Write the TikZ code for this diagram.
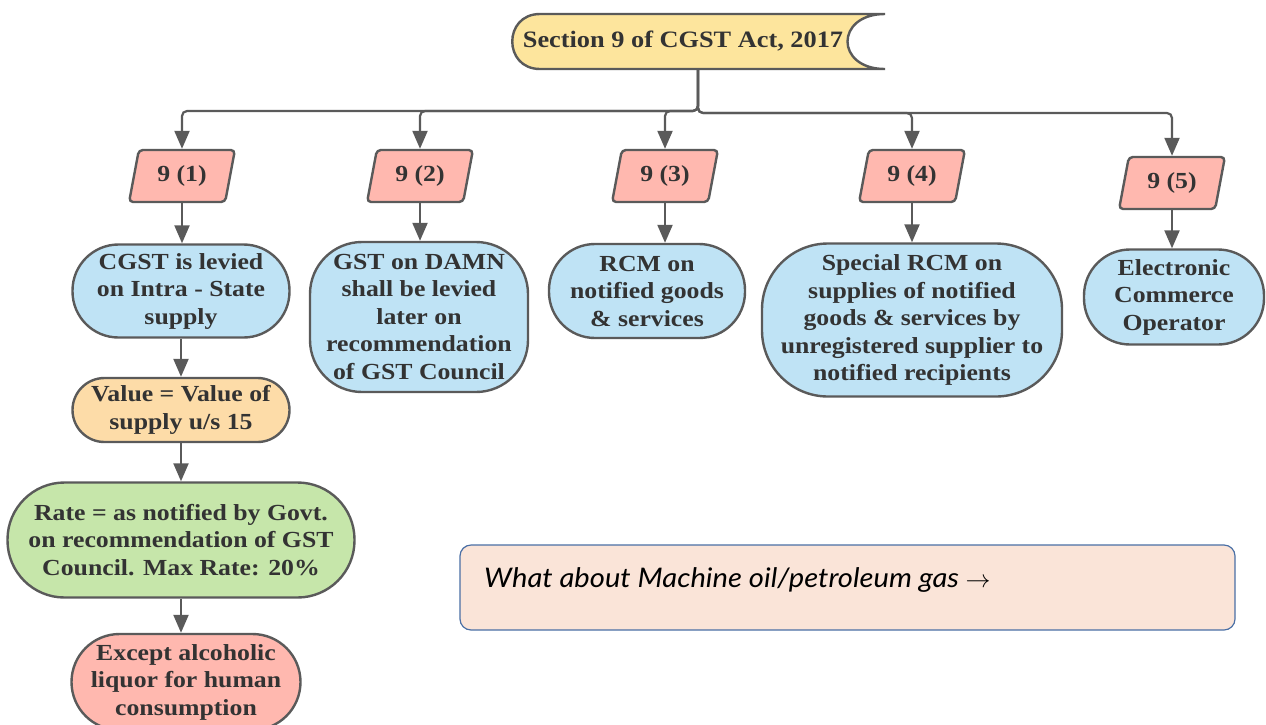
\documentclass[tikz,border=0pt]{standalone}
\usepackage{fontspec}
\setmainfont{Liberation Serif}[FakeStretch=1.12]
\newfontfamily\notefont{Lato}[FakeStretch=1.08]
\usetikzlibrary{shapes.geometric,arrows.meta}
\definecolor{bordc}{HTML}{5A5A5A}
\definecolor{txtc}{HTML}{333333}
\definecolor{bluef}{HTML}{BFE3F5}
\definecolor{pinkf}{HTML}{FFB8AF}
\definecolor{yellf}{HTML}{FDE59D}
\definecolor{orangef}{HTML}{FDDCA8}
\definecolor{greenf}{HTML}{C6E6AA}
\definecolor{notef}{HTML}{FAE4D8}
\definecolor{noted}{HTML}{4A6FA5}
\tikzset{
  boxbase/.style={draw=bordc, line width=2.4pt, text=txtc, align=center, inner sep=0pt,
     font=\fontsize{23}{27.5}\selectfont\bfseries},
  para/.style={boxbase, trapezium, trapezium left angle=75, trapezium right angle=105,
     trapezium stretches=true, fill=pinkf, minimum width=106pt, minimum height=52pt, rounded corners=4pt},
  pill/.style={boxbase, rectangle},
  conn/.style={draw=bordc, line width=2.2pt, rounded corners=5pt, -{Triangle[length=18pt,width=15pt]}},
}
\begin{document}
\begin{tikzpicture}[x=1pt,y=-1pt]
\useasboundingbox (0,0) rectangle (1266,724);
% banner
\draw[draw=bordc, line width=2.4pt, fill=yellf]
  (540,14) -- (885,14) .. controls (835,14) and (835,69) .. (885,69)
  -- (540,69) .. controls (503,69) and (503,14) .. (540,14) -- cycle;
\node[text=txtc, font=\fontsize{23.5}{28}\selectfont\bfseries] (sec) at (683,41) {Section 9 of CGST Act, 2017};
\coordinate (secb) at (698,69);

% parallelograms
\node[para] (p1) at (182,176) {9 (1)};
\node[para] (p2) at (420,176) {9 (2)};
\node[para] (p3) at (665,176) {9 (3)};
\node[para] (p4) at (912,176) {9 (4)};
\node[para] (p5) at (1172,183) {9 (5)};

% level 2
\node[pill, fill=bluef, minimum width=217pt, minimum height=93pt, rounded corners=46pt] (a1) at (181,291)
  {CGST is levied\\on Intra - State\\supply};
\node[pill, fill=bluef, minimum width=218pt, minimum height=150pt, rounded corners=52pt] (a2) at (419,317)
  {GST on DAMN\\shall be levied\\later on\\recommendation\\of GST Council};
\node[pill, fill=bluef, minimum width=196pt, minimum height=94pt, rounded corners=46pt] (a3) at (647,291)
  {RCM on\\notified goods\\\& services};
\node[pill, fill=bluef, minimum width=300pt, minimum height=153pt, rounded corners=66pt] (a4) at (912,320)
  {Special RCM on\\supplies of notified\\goods \& services by\\unregistered supplier to\\notified recipients};
\node[pill, fill=bluef, minimum width=180pt, minimum height=95pt, rounded corners=46pt] (a5) at (1174,297)
  {Electronic\\Commerce\\Operator};

% left chain
\node[pill, fill=orangef, minimum width=217pt, minimum height=64pt, rounded corners=32pt] (v) at (181,410)
  {Value = Value of\\supply u/s 15};
\node[pill, fill=greenf, minimum width=347pt, minimum height=115pt, rounded corners=57pt] (r) at (181,540)
  {Rate = as notified by Govt.\\on recommendation of GST\\Council. Max Rate: 20\%};
\node[pill, fill=pinkf, minimum width=229pt, minimum height=96pt, rounded corners=48pt] (e) at (186,682)
  {Except alcoholic\\liquor for human\\consumption};

% note
\node[draw=noted, line width=1.2pt, fill=notef, rounded corners=11pt, minimum width=775pt, minimum height=85pt, inner sep=0pt] (q) at (847.5,587.5) {};
\node[anchor=west, text=black, font=\notefont\itshape\fontsize{27}{30}\selectfont, inner sep=0pt] (qt) at (484,580)
  {What about Machine oil/petroleum gas $\rightarrow$};

% connectors
\draw[conn] (secb) -- ++(0,42) -| (p1.north);
\draw[conn] (secb) -- ++(0,42) -| (p2.north);
\draw[conn] (secb) -- ++(0,42) -| (p3.north);
\draw[conn] (secb) -- ++(0,44) -| (p4.north);
\draw[conn] (secb) -- ++(0,44) -| (p5.north);

\draw[conn] (p1.south) -- (p1.south |- a1.north);
\draw[conn] (p2.south) -- (p2.south |- a2.north);
\draw[conn] (p3.south) -- (p3.south |- a3.north);
\draw[conn] (p4.south) -- (p4.south |- a4.north);
\draw[conn] (p5.south) -- (p5.south |- a5.north);

\draw[conn] (a1.south) -- (v.north);
\draw[conn] (v.south) -- (r.north);
\draw[conn] (r.south) -- (r.south |- e.north);
\end{tikzpicture}
\end{document}
